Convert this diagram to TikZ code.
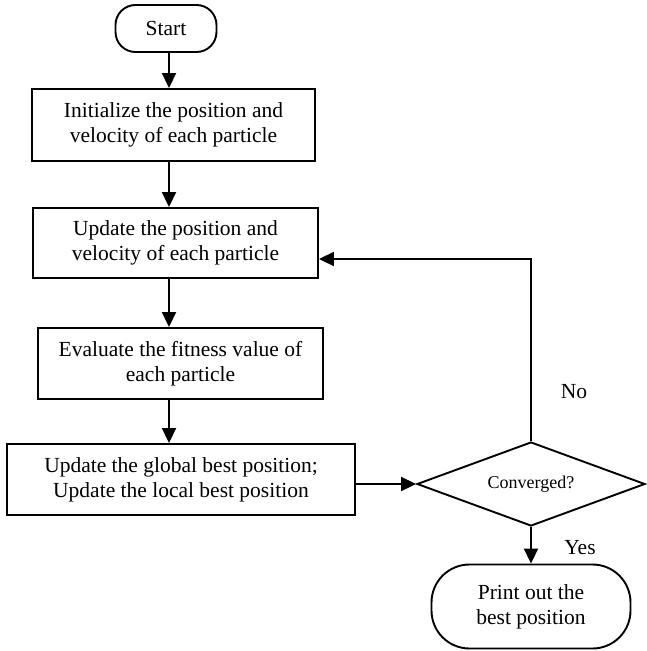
\documentclass[tikz,border=0pt]{standalone}
\usepackage{fontspec}
\setmainfont{Liberation Serif}
\usetikzlibrary{shapes.geometric,arrows.meta}
\begin{document}
\begin{tikzpicture}[x=1pt,y=-1pt,
  every node/.style={line width=1.9pt, inner sep=0pt, align=center,
    font=\fontsize{21.5}{25}\selectfont},
  procbox/.style={draw, rectangle},
  termbox/.style={draw, rectangle},
  decbox/.style={draw, diamond, aspect=2.74},
  lbl/.style={font=\fontsize{21.5}{25}\selectfont},
  arr/.style={line width=1.9pt, -{Triangle[length=15pt,width=14pt]}}]
\useasboundingbox (0,0) rectangle (646,651);
\node[termbox, rounded corners=20pt, minimum width=101pt, minimum height=47pt] (start) at (166,28.5) {Start};
\node[procbox, minimum width=283pt, minimum height=72pt] (b1) at (173.5,125) {Initialize the position and\\velocity of each particle};
\node[procbox, minimum width=285pt, minimum height=70pt] (b2) at (175.5,243) {Update the position and\\velocity of each particle};
\node[procbox, minimum width=285pt, minimum height=71pt] (b3) at (180.5,363.5) {Evaluate the fitness value of\\each particle};
\node[procbox, minimum width=348pt, minimum height=71pt] (b4) at (181,479.5) {Update the global best position;\\Update the local best position};
\node[decbox, minimum width=228pt, minimum height=84pt, font=\fontsize{18}{21}\selectfont] (dec) at (531,484) {Converged?};
\node[termbox, rounded corners=38pt, minimum width=199pt, minimum height=84pt] (end) at (531,606.5) {Print out the\\best position};
\node[lbl] (no) at (574,392) {No};
\node[lbl] (yes) at (580,548) {Yes};
\coordinate (fb) at (318,259);
\coordinate (ax) at (169,0);
\draw[arr] (start.south -| ax) -- (b1.north -| ax);
\draw[arr] (b1.south -| ax) -- (b2.north -| ax);
\draw[arr] (b2.south -| ax) -- (b3.north -| ax);
\draw[arr] (b3.south -| ax) -- (b4.north -| ax);
\draw[arr] (b4.east |- dec.west) -- (dec.west);
\draw[arr] (dec.north) |- (b2.east |- fb);
\draw[arr] (dec.south) -- (dec.south |- end.north);
\end{tikzpicture}
\end{document}
